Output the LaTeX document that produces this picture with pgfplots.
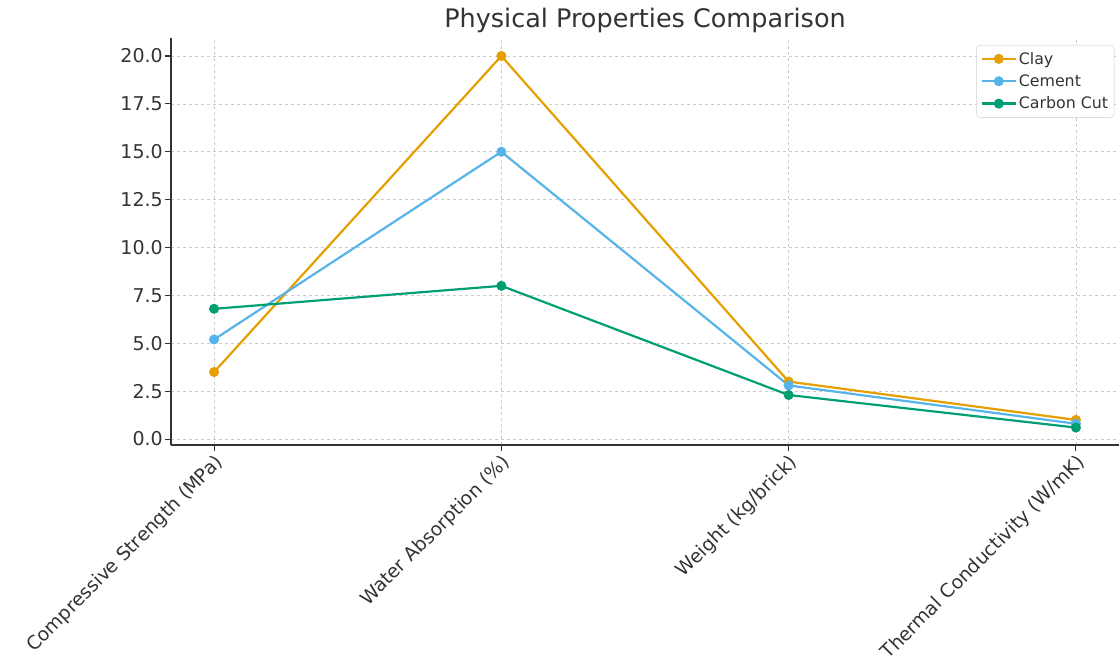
\documentclass[border=0pt]{standalone}
\usepackage{pgfplots}
\pgfplotsset{compat=1.18}
\usepackage{fontspec}
\setmainfont{DejaVu Sans}
\definecolor{clay}{HTML}{E69F00}
\definecolor{cement}{HTML}{56B4E9}
\definecolor{carbon}{HTML}{009E73}
\definecolor{spine}{HTML}{333333}
\begin{document}
\begin{tikzpicture}[x=1pt,y=1pt]
\useasboundingbox (0,0) rectangle (1119,666);
\begin{axis}[
  at={(171pt,221pt)}, anchor=south west,
  scale only axis, width=948pt, height=407pt,
  xmin=-0.15, xmax=3.15, ymin=-0.31, ymax=20.94,
  axis lines*=left,
  axis line style={spine, line width=1.4pt},
  xtick={0,1,2,3},
  xticklabels={Compressive Strength (MPa),Water Absorption (\%),Weight (kg/brick),Thermal Conductivity (W/mK)},
  xticklabel style={rotate=45, anchor=north east, font=\fontsize{18.8}{22}\selectfont, text=spine, inner sep=1pt, yshift=0pt, xshift=-1pt},
  ytick={0,2.5,...,20},
  yticklabel style={font=\fontsize{19}{22}\selectfont, text=spine, inner sep=2pt},
  /pgf/number format/assume math mode=true,
  /pgf/number format/.cd, fixed, fixed zerofill, precision=1, /pgfplots/.cd,
  tick align=outside, tick style={spine, line width=1.1pt}, major tick length=6pt,
  grid=major,
  grid style={dashed, gray!40, line width=0.7pt},
  title={Physical Properties Comparison},
  title style={font=\fontsize{25.5}{30}\selectfont, text=spine, yshift=-4pt},
  legend style={at={(rel axis cs:0.995,0.983)}, anchor=north east, font=\fontsize{15.8}{19}\selectfont, text=spine, draw=gray!40, rounded corners=3pt, inner xsep=4pt, inner ysep=5pt, row sep=5pt},
  legend cell align=left,
  legend image code/.code={\draw[#1, mark repeat=2, mark phase=2] plot coordinates {(0pt,0pt) (17pt,0pt) (34pt,0pt)};},
  every axis plot/.append style={line width=2.2pt, mark=*, mark size=4.6pt},
]
\addplot[clay, mark options={fill=clay, draw=clay, line width=0.8pt}] coordinates {(0,3.5) (1,20) (2,3.0) (3,1.0)};
\addlegendentry{Clay}
\addplot[cement, mark options={fill=cement, draw=cement, line width=0.8pt}] coordinates {(0,5.2) (1,15) (2,2.8) (3,0.8)};
\addlegendentry{Cement}
\addplot[carbon, mark options={fill=carbon, draw=carbon, line width=0.8pt}] coordinates {(0,6.8) (1,8.0) (2,2.3) (3,0.6)};
\addlegendentry{Carbon Cut}
\end{axis}
\end{tikzpicture}
\end{document}
